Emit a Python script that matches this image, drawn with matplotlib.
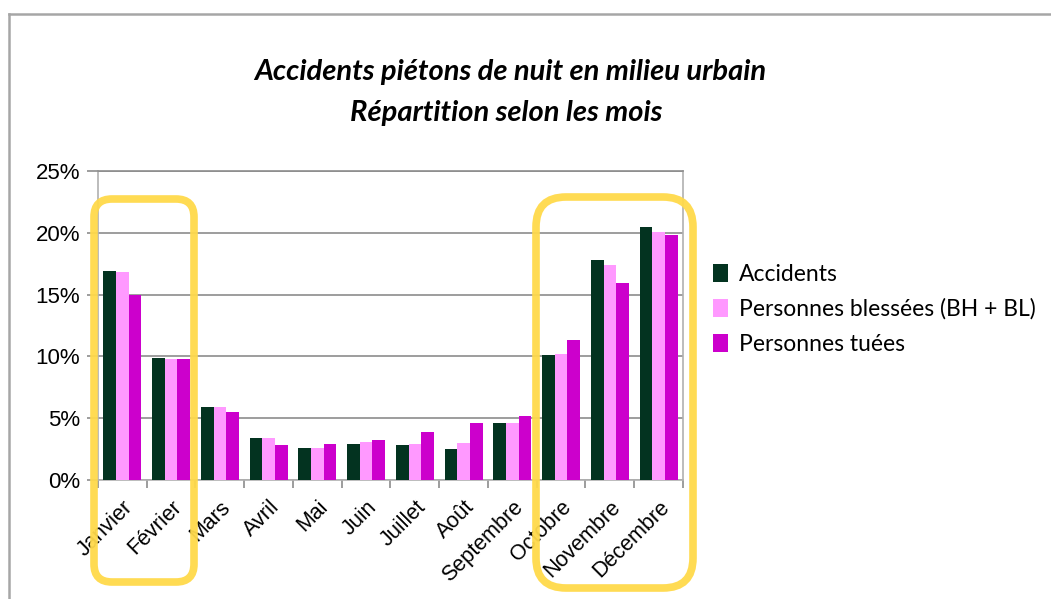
import matplotlib
matplotlib.use("Agg")
import matplotlib.pyplot as plt
import numpy as np
from matplotlib.patches import FancyBboxPatch
from matplotlib.lines import Line2D
from matplotlib.ticker import FixedLocator, PercentFormatter

months = ["Janvier", "Février", "Mars", "Avril", "Mai", "Juin", "Juillet",
          "Août", "Septembre", "Octobre", "Novembre", "Décembre"]
series = ["Accidents", "Personnes blessées (BH + BL)", "Personnes tuées"]
accidents = [16.9, 9.9, 5.9, 3.4, 2.6, 2.9, 2.8, 2.5, 4.6, 10.1, 17.8, 20.5]
blesses = [16.8, 9.8, 5.9, 3.4, 2.6, 3.1, 2.9, 3.0, 4.6, 10.2, 17.4, 20.1]
tues = [15.0, 9.8, 5.5, 2.8, 2.9, 3.2, 3.9, 4.6, 5.2, 11.3, 15.9, 19.8]
colors = ["#033320", "#FF99FF", "#CC00CC"]

W, H = 1051, 599
fig = plt.figure(figsize=(W / 100, H / 100), dpi=100)
fig.patch.set_facecolor("white")
ax = fig.add_axes([98 / W, 1 - 480 / H, (683 - 98) / W, (480 - 171) / H])

x = np.arange(len(months))
bw = 0.26
for i, (vals, lab, c) in enumerate(zip([accidents, blesses, tues], series, colors)):
    ax.bar(x + (i - 1) * bw, vals, width=bw, color=c, label=lab, zorder=3)

ax.set_xlim(-0.5, len(months) - 0.5)
ax.set_ylim(0, 25)
ax.set_yticks([0, 5, 10, 15, 20, 25])
ax.yaxis.set_major_formatter(PercentFormatter(decimals=0))
ax.yaxis.grid(True, color="#8c8c8c", linewidth=1.2, zorder=0)
ax.set_axisbelow(True)

ax.set_xticks(x)
ax.set_xticklabels(months, rotation=45, ha="right", va="top",
                   rotation_mode="anchor", fontsize=15.5, family="Liberation Sans")
ax.xaxis.set_minor_locator(FixedLocator(np.arange(-0.5, len(months), 1)))
ax.tick_params(axis="x", which="major", length=0, pad=12)
ax.tick_params(axis="x", which="minor", length=6, color="#8c8c8c", width=1.2)
ax.tick_params(axis="y", length=8, color="#8c8c8c", width=1.2, pad=5)
for t in ax.get_yticklabels():
    t.set_fontsize(16)
    t.set_family("Liberation Sans")

for s in ax.spines.values():
    s.set_color("#b0b0b0")
    s.set_linewidth(1.2)
ax.spines["top"].set_color("#8c8c8c")

fig.text(510 / W, 1 - 72 / H, "Accidents piétons de nuit en milieu urbain",
         ha="center", va="center", fontsize=21, fontweight="bold",
         style="italic", family="Lato")
fig.text(506 / W, 1 - 113 / H, "Répartition selon les mois",
         ha="center", va="center", fontsize=21, fontweight="bold",
         style="italic", family="Lato")

fig.legend(loc="upper left", bbox_to_anchor=(692 / W, 1 - 243 / H),
           frameon=False, prop={"family": "Lato", "size": 16.5},
           handlelength=0.65, handleheight=0.85, handletextpad=0.5,
           labelspacing=0.6)

# frame lines of the original sheet
fig.add_artist(Line2D([9 / W, 1], [1 - 14 / H, 1 - 14 / H], color="#a6a6a6",
                      linewidth=1.8, transform=fig.transFigure))
fig.add_artist(Line2D([9 / W, 9 / W], [1 - 14 / H, 0], color="#a6a6a6",
                      linewidth=1.8, transform=fig.transFigure))

# yellow highlight boxes
for (x0, y0, x1, y1, r) in [(94, 199, 194, 582, 18), (536, 197, 693, 588, 30)]:
    box = FancyBboxPatch((x0 + r, H - y1 + r), (x1 - x0) - 2 * r, (y1 - y0) - 2 * r,
                         boxstyle=f"round,pad={r}", transform=None,
                         fill=False, edgecolor="#FFD94A", linewidth=5.5,
                         alpha=0.95, zorder=10)
    fig.add_artist(box)

fig.savefig("out.png", dpi=100)
